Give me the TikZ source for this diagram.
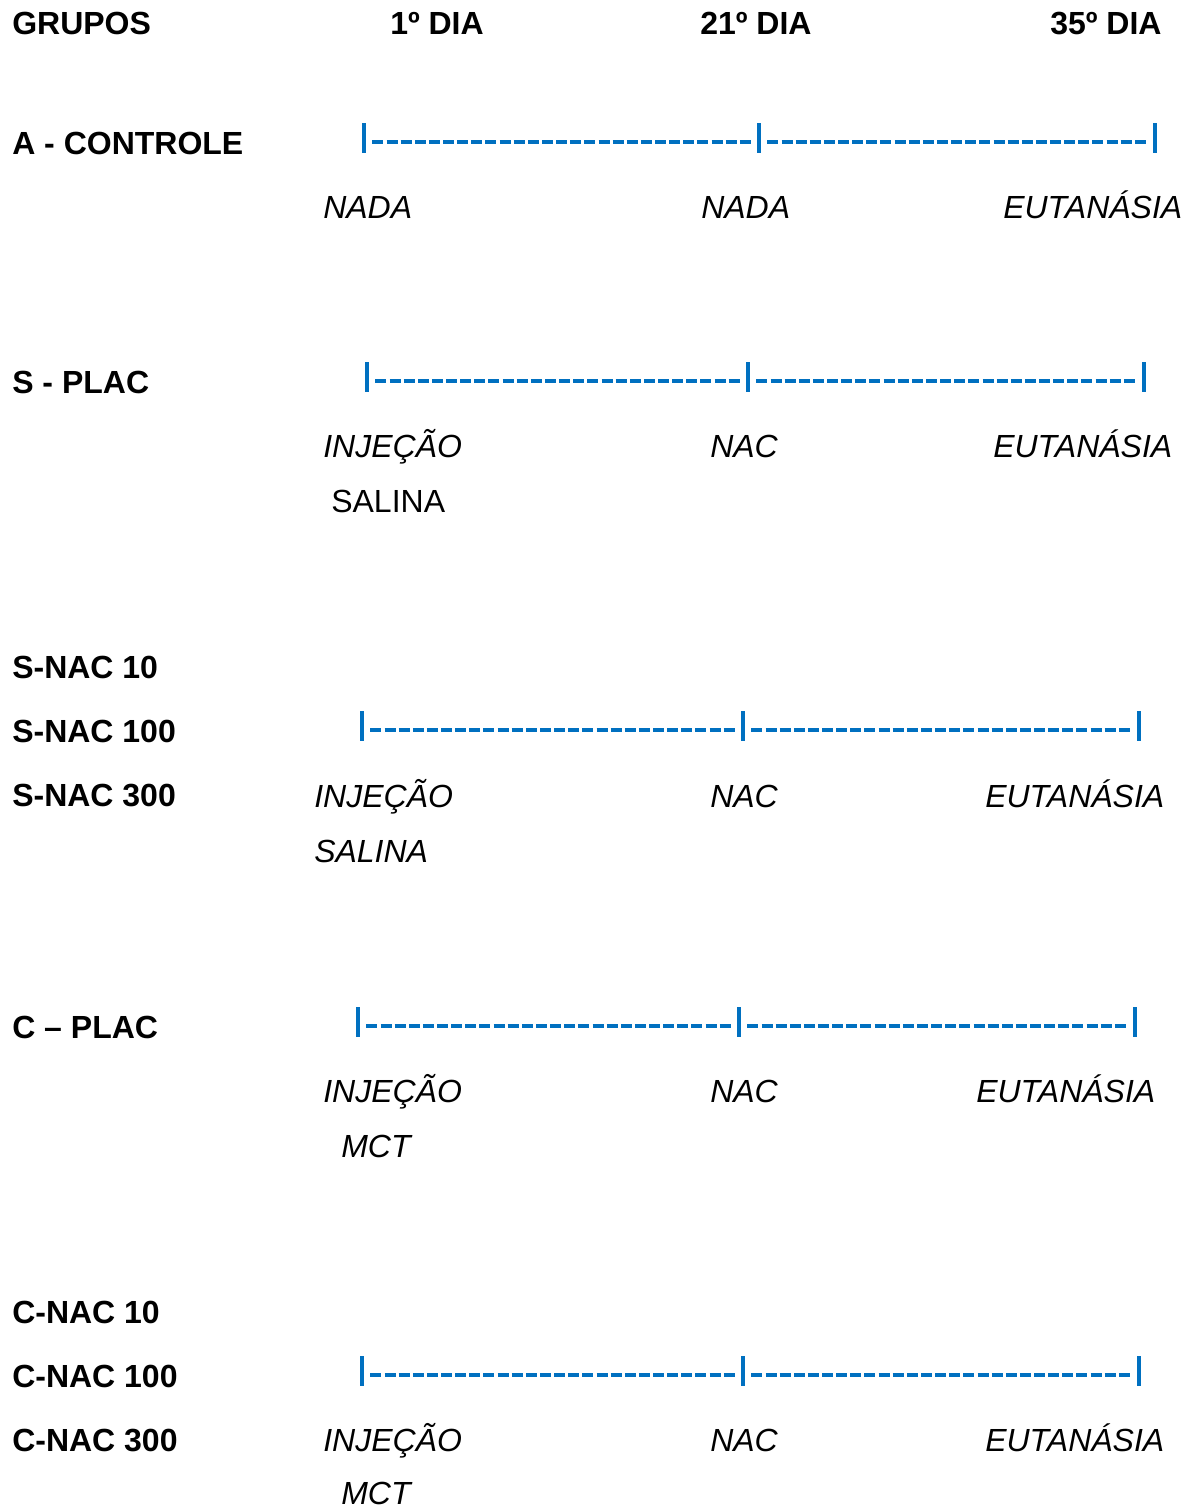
\documentclass[tikz,border=0pt]{standalone}
\usepackage{fontspec}
\setmainfont{Liberation Sans}
\definecolor{tlblue}{HTML}{0070C0}
\begin{document}
\begin{tikzpicture}[x=0.75pt,y=-0.75pt,
  txt/.style={anchor=base west,inner sep=0pt,font=\fontsize{24}{29}\selectfont},
  bold/.style={txt,font=\fontsize{24}{29}\selectfont\bfseries},
  ital/.style={txt,font=\fontsize{24}{29}\selectfont\itshape},
  tick/.style={rectangle,fill=tlblue,inner sep=0pt,minimum width=3.2pt,minimum height=22.5pt},
  dashline/.style={draw=tlblue,line width=3.2pt,dash pattern=on 8.25pt off 2.35pt,shorten <=4.5pt,shorten >=4.5pt}]
\useasboundingbox (0,0) rectangle (1194,1510);
% header
\node[bold] (hg) at (12,34) {GRUPOS};
\node[bold] (h1) at (390,34) {1º DIA};
\node[bold] (h21) at (700,34) {21º DIA};
\node[bold] (h35) at (1050,34) {35º DIA};
% A - CONTROLE
\node[bold] (ga) at (12,154) {A - CONTROLE};
\node[tick] (a1) at (364,138) {};
\node[tick] (a2) at (759,138) {};
\node[tick] (a3) at (1155,138) {};
\draw[dashline] ([yshift=-3pt]a1.east) -- ([yshift=-3pt]a2.west);
\draw[dashline] ([yshift=-3pt]a2.east) -- ([yshift=-3pt]a3.west);
\node[ital] (a1t) at (323,218) {NADA};
\node[ital] (a2t) at (701,218) {NADA};
\node[ital] (a3t) at (1003,218) {EUTANÁSIA};
% S - PLAC
\node[bold] (gs) at (12,393) {S - PLAC};
\node[tick] (s1) at (367,377) {};
\node[tick] (s2) at (748,377) {};
\node[tick] (s3) at (1144,377) {};
\draw[dashline] ([yshift=-3pt]s1.east) -- ([yshift=-3pt]s2.west);
\draw[dashline] ([yshift=-3pt]s2.east) -- ([yshift=-3pt]s3.west);
\node[ital] (s1t) at (323,457) {INJEÇÃO};
\node[txt] (s1u) at (331,512) {SALINA};
\node[ital] (s2t) at (710,457) {NAC};
\node[ital] (s3t) at (993,457) {EUTANÁSIA};
% S-NAC
\node[bold] (gsn1) at (12,678) {S-NAC 10};
\node[bold] (gsn2) at (12,742) {S-NAC 100};
\node[bold] (gsn3) at (12,806) {S-NAC 300};
\node[tick] (sn1) at (362,726) {};
\node[tick] (sn2) at (743,726) {};
\node[tick] (sn3) at (1139,726) {};
\draw[dashline] ([yshift=-3pt]sn1.east) -- ([yshift=-3pt]sn2.west);
\draw[dashline] ([yshift=-3pt]sn2.east) -- ([yshift=-3pt]sn3.west);
\node[ital] (sn1t) at (314,807) {INJEÇÃO};
\node[ital] (sn1u) at (314,862) {SALINA};
\node[ital] (sn2t) at (710,807) {NAC};
\node[ital] (sn3t) at (985,807) {EUTANÁSIA};
% C - PLAC
\node[bold] (gc) at (12,1038) {C – PLAC};
\node[tick] (c1) at (358,1022) {};
\node[tick] (c2) at (739,1022) {};
\node[tick] (c3) at (1135,1022) {};
\draw[dashline] ([yshift=-3pt]c1.east) -- ([yshift=-3pt]c2.west);
\draw[dashline] ([yshift=-3pt]c2.east) -- ([yshift=-3pt]c3.west);
\node[ital] (c1t) at (323,1102) {INJEÇÃO};
\node[ital] (c1u) at (341,1157) {MCT};
\node[ital] (c2t) at (710,1102) {NAC};
\node[ital] (c3t) at (976,1102) {EUTANÁSIA};
% C-NAC
\node[bold] (gcn1) at (12,1323) {C-NAC 10};
\node[bold] (gcn2) at (12,1387) {C-NAC 100};
\node[bold] (gcn3) at (12,1451) {C-NAC 300};
\node[tick] (cn1) at (362,1371) {};
\node[tick] (cn2) at (743,1371) {};
\node[tick] (cn3) at (1139,1371) {};
\draw[dashline] ([yshift=-3pt]cn1.east) -- ([yshift=-3pt]cn2.west);
\draw[dashline] ([yshift=-3pt]cn2.east) -- ([yshift=-3pt]cn3.west);
\node[ital] (cn1t) at (323,1451) {INJEÇÃO};
\node[ital] (cn1u) at (341,1504) {MCT};
\node[ital] (cn2t) at (710,1451) {NAC};
\node[ital] (cn3t) at (985,1451) {EUTANÁSIA};
\end{tikzpicture}
\end{document}
